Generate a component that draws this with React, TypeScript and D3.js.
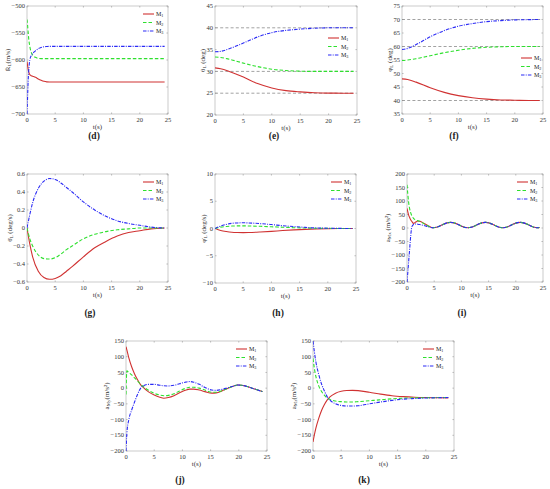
import React from 'react';
import * as d3 from 'd3';

const xTicks = [0, 5, 10, 15, 20, 25];
const legendSubs = ['1', '2', '3'];

// (d)
const tD = [0, 0.1, 0.2, 0.3, 0.5, 0.75, 1, 1.5, 2, 2.5, 3, 3.5, 4, 6, 10, 15, 20, 24.4];
const dM1 = [-603, -610, -617, -622, -627, -629, -630, -632, -635, -637.5, -639.5, -640.5, -640.7, -640.7, -640.7, -640.7, -640.7, -640.7];
const dM2 = [-525, -535, -548, -560, -575, -586, -591, -595, -597, -597.5, -597.5, -597.5, -597.5, -597.5, -597.5, -597.5, -597.5, -597.5];
const dM3 = [-700, -670, -640, -620, -600, -592, -588, -583, -579, -577, -575.5, -575, -574.7, -574.7, -574.7, -574.7, -574.7, -574.7];
const dTicks = [-700, -650, -600, -550, -500];

// (e)
const tE = [0, 1, 2.5, 5, 7.5, 10, 12.5, 15, 17.5, 20, 22.5, 24.4];
const eM1 = [30.8, 30.6, 30.0, 28.7, 27.2, 26.2, 25.6, 25.3, 25.1, 25.02, 25.0, 25.0];
const eM2 = [33.3, 33.2, 32.8, 31.9, 31.1, 30.5, 30.2, 30.05, 30.0, 30.0, 30.0, 30.0];
const eM3 = [34.5, 34.6, 35.2, 36.5, 37.9, 38.9, 39.4, 39.7, 39.9, 40.0, 40.0, 40.0];
const eRefs = [25, 30, 40];
const eTicks = [20, 25, 30, 35, 40, 45];

// (f)
const tF = [0, 1, 2.5, 5, 7.5, 10, 12.5, 15, 17.5, 20, 22.5, 24.4];
const fM1 = [48.0, 47.8, 46.8, 44.7, 43.0, 41.8, 41.0, 40.5, 40.2, 40.1, 40.0, 40.0];
const fM2 = [54.8, 55.0, 55.5, 56.6, 57.7, 58.6, 59.3, 59.7, 59.9, 60.0, 60.0, 60.0];
const fM3 = [58.9, 59.3, 60.7, 63.6, 65.9, 67.5, 68.5, 69.2, 69.6, 69.85, 69.95, 70.0];
const fRefs = [40, 60, 70];
const fTicks = [35, 40, 45, 50, 55, 60, 65, 70, 75];

// (g)
const tG = [0, 0.5, 1, 2, 3, 4, 5, 6, 7, 8, 10, 12, 14, 16, 18, 20, 22, 24.4];
const gM1 = [0, -0.18, -0.32, -0.48, -0.55, -0.57, -0.56, -0.53, -0.48, -0.43, -0.32, -0.22, -0.15, -0.09, -0.05, -0.03, -0.01, 0];
const gM2 = [0, -0.12, -0.2, -0.3, -0.34, -0.345, -0.33, -0.29, -0.24, -0.2, -0.12, -0.07, -0.04, -0.02, -0.01, 0, 0, 0];
const gM3 = [0, 0.15, 0.28, 0.44, 0.52, 0.55, 0.54, 0.5, 0.45, 0.4, 0.29, 0.2, 0.13, 0.08, 0.05, 0.03, 0.01, 0];
const gTicks = [-0.6, -0.4, -0.2, 0, 0.2, 0.4, 0.6];

// (h)
const tH = [0, 1, 2, 3, 4, 5, 6, 8, 10, 12, 14, 16, 18, 20, 22, 24.4];
const hM1 = [0, -0.35, -0.55, -0.68, -0.73, -0.75, -0.73, -0.64, -0.52, -0.38, -0.26, -0.16, -0.09, -0.04, -0.01, 0];
const hM2 = [0, 0.25, 0.38, 0.45, 0.48, 0.48, 0.46, 0.4, 0.32, 0.23, 0.15, 0.09, 0.05, 0.02, 0.01, 0];
const hM3 = [0, 0.45, 0.75, 0.95, 1.02, 1.05, 1.02, 0.9, 0.72, 0.52, 0.35, 0.2, 0.1, 0.05, 0.02, 0];
const hTicks = [-10, -5, 0, 5, 10];

// (i)
const tI = [0, 0.15, 0.3, 0.5, 0.7, 0.9, 1.2, 1.6, 2, 2.5, 3, 3.5, 4, 4.4,
  4.8, 5.6, 6.4, 7.2, 8.0, 8.8, 9.6, 10.4, 11.2, 12.0, 12.8, 13.6, 14.4, 15.2, 16.0, 16.8, 17.6,
  18.4, 19.2, 20.0, 20.8, 21.6, 22.4, 23.2, 24.0, 24.4];
const iTail = [1, 4, 11, 18, 21, 18, 11, 4, 1, 4, 11, 18, 21, 18, 11, 4, 1, 4, 11, 18, 21, 18, 11, 4, 1, 2];
const iM1 = [73, 60, 48, 38, 30, 24, 17, 22, 26, 24, 19, 13, 7, 3, ...iTail];
const iM2 = [160, 125, 95, 70, 55, 45, 36, 30, 27, 24, 17, 11, 6, 3, ...iTail];
const iM3 = [-200, -165, -125, -75, -25, 5, 13, 15, 14, 12, 10, 7, 4, 2, ...iTail];
const iTicks = [-200, -150, -100, -50, 0, 50, 100, 150, 200];

// (j)
const tJ = [0, 0.15, 0.5, 1, 1.5, 2, 2.5, 3, 4, 5, 6, 6.7, 7.5, 8.5, 9.5, 10.5, 11.3, 12, 13, 14, 15.2, 16, 17, 18, 19, 19.8, 20.5, 21.5, 22.5, 23.5, 24.2];
const jM1 = [132, 122, 96, 68, 46, 28, 13, 3, -12, -22, -29, -32, -30, -24, -15, -7, -3, -3, -6, -11, -16, -15, -9, -1, 6, 10, 9, 5, -1, -7, -11];
const jM2 = [-20, 55, 50, 42, 33, 24, 14, 6, -7, -16, -22, -24, -23, -18, -9, -1, 3, 3, 0, -6, -13, -13, -8, -1, 6, 10, 9, 5, -1, -7, -11];
const jM3 = [-200, -145, -100, -70, -45, -22, -3, 7, 12, 12, 9, 7.5, 7, 9, 14, 19, 21, 19, 12, 2, -6, -7, -4, 1, 6, 10, 9, 5, -1, -7, -11];
const jTicks = [-200, -150, -100, -50, 0, 50, 100, 150];

// (k)
const tK = [0, 0.25, 0.5, 1, 1.5, 2, 2.5, 3, 4, 5, 6, 7, 8, 10, 12, 14, 16, 18, 20, 22, 24];
const kM1 = [-171, -148, -128, -97, -72, -53, -38, -28, -16, -10, -7.5, -7, -8, -13, -19, -24, -27, -29, -30, -30.5, -31];
const kM2 = [95, 62, 38, 8, -10, -22, -31, -36, -41, -43, -44, -44, -43, -40, -37, -34, -32, -31, -30.5, -30, -30];
const kM3 = [150, 115, 85, 45, 14, -8, -27, -38, -50, -55, -57, -57, -56, -50, -44, -39, -35, -33, -31.5, -30.5, -30];
const kTicks = [-200, -150, -100, -50, 0, 50, 100, 150];

const STYLES = [
  { color: '#d03232', dash: '' },
  { color: '#2ee02e', dash: '3.5,2' },
  { color: '#2b2bf5', dash: '3.5,1.2,1,1.2' },
];

const FONT = '"Liberation Serif", "Times New Roman", serif';

const fmt = (v: number) => {
  const s = String(Math.round(v * 100) / 100);
  return v < 0 ? '\u2212' + s.slice(1) : s;
};

type PanelProps = {
  id: string;
  x0: number; x1: number; y0: number; y1: number;
  yDomain: [number, number];
  yTicks: number[];
  t: number[];
  series: number[][];
  refs?: number[];
  legend: [number, number];
  ylabel: React.ReactNode;
  ylabelX: number;
  tag: string;
  tagX: number;
  tagY: number;
};

function Panel(p: PanelProps) {
  const x = d3.scaleLinear().domain([0, 25]).range([p.x0, p.x1]);
  const y = d3.scaleLinear().domain(p.yDomain).range([p.y1, p.y0]);
  const line = d3.line<number>()
    .x((_, i) => x(p.t[i]))
    .y((v) => y(v))
    .curve(d3.curveMonotoneX);
  const tl = 1.6;
  const clipId = 'clip-' + p.id;
  const midY = (p.y0 + p.y1) / 2;
  return (
    <g>
      <defs>
        <clipPath id={clipId}>
          <rect x={p.x0} y={p.y0 - 1} width={p.x1 - p.x0} height={p.y1 - p.y0 + 2} />
        </clipPath>
      </defs>
      <rect x={p.x0} y={p.y0} width={p.x1 - p.x0} height={p.y1 - p.y0} fill="#fff" stroke="#a8a8a8" strokeWidth={0.6} />
      {xTicks.map((v) => (
        <g key={'xt' + v}>
          <line x1={x(v)} x2={x(v)} y1={p.y1} y2={p.y1 - tl} stroke="#888" strokeWidth={0.5} />
          <line x1={x(v)} x2={x(v)} y1={p.y0} y2={p.y0 + tl} stroke="#888" strokeWidth={0.5} />
          <text x={x(v)} y={p.y1 + 7.5} fontSize={6.5} textAnchor="middle" fill="#333" fontFamily={FONT}>{fmt(v)}</text>
        </g>
      ))}
      {p.yTicks.map((v) => (
        <g key={'yt' + v}>
          <line x1={p.x0} x2={p.x0 + tl} y1={y(v)} y2={y(v)} stroke="#888" strokeWidth={0.5} />
          <line x1={p.x1} x2={p.x1 - tl} y1={y(v)} y2={y(v)} stroke="#888" strokeWidth={0.5} />
          <text x={p.x0 - 2} y={y(v) + 2.2} fontSize={6.5} textAnchor="end" fill="#333" fontFamily={FONT}>{fmt(v)}</text>
        </g>
      ))}
      <text x={(p.x0 + p.x1) / 2} y={p.y1 + 14.5} fontSize={7} textAnchor="middle" fill="#333" fontFamily={FONT}>t(s)</text>
      <text transform={`translate(${p.ylabelX},${midY}) rotate(-90)`} fontSize={7} textAnchor="middle" dominantBaseline="middle" fill="#333" fontFamily={FONT}>{p.ylabel}</text>
      <g clipPath={`url(#${clipId})`}>
        {(p.refs || []).map((r) => (
          <line key={'r' + r} x1={x(0)} x2={x(24.5)} y1={y(r)} y2={y(r)} stroke="#8a8a8a" strokeWidth={0.8} strokeDasharray="3,2.2" />
        ))}
        {p.series.map((s, i) => (
          <path key={'s' + i} d={line(s) || ''} fill="none" stroke={STYLES[i].color} strokeWidth={1.1} strokeDasharray={STYLES[i].dash || undefined} />
        ))}
      </g>
      {legendSubs.map((sub, i) => {
        const ly = p.legend[1] + i * 8.5;
        const lx = p.legend[0];
        return (
          <g key={'lg' + i}>
            <line x1={lx} x2={lx + 11} y1={ly} y2={ly} stroke={STYLES[i].color} strokeWidth={1.1} strokeDasharray={STYLES[i].dash || undefined} />
            <text x={lx + 13} y={ly + 2} fontSize={6} fill="#222" fontFamily={FONT}>M<tspan fontSize={4.2} dy={1.4}>{sub}</tspan></text>
          </g>
        );
      })}
      <text x={p.tagX} y={p.tagY + 3.2} fontSize={9.5} fontWeight="bold" textAnchor="middle" fill="#222" fontFamily={FONT}>{p.tag}</text>
    </g>
  );
}

const sub = (s: string) => <tspan fontSize={5} dy={1.5}>{s}</tspan>;

export default function App() {
  return (
    <svg width={550} height={489} style={{ position: 'absolute', left: 0, top: 0, background: '#fff' }}>
      <rect width={550} height={489} fill="#fff" />
      <Panel id="d" x0={27} x1={168} y0={6} y1={114} yDomain={[-700, -500]} yTicks={dTicks}
        t={tD} series={[dM1, dM2, dM3]} legend={[143, 14]}
        ylabel={<>{'R\u0307'}{sub('L')}<tspan dy={-1.5}>(m/s)</tspan></>} ylabelX={8}
        tag="(d)" tagX={94} tagY={136} />
      <Panel id="e" x0={215} x1={357} y0={6} y1={115} yDomain={[20, 45]} yTicks={eTicks}
        t={tE} series={[eM1, eM2, eM3]} refs={eRefs} legend={[328, 38]}
        ylabel={<>{'\u03B8'}{sub('L')}<tspan dy={-1.5}> (deg)</tspan></>} ylabelX={203}
        tag="(e)" tagX={274} tagY={136} />
      <Panel id="f" x0={402} x1={543} y0={6} y1={114} yDomain={[35, 75]} yTicks={fTicks}
        t={tF} series={[fM1, fM2, fM3]} refs={fRefs} legend={[521, 58]}
        ylabel={<>{'\u03C6'}{sub('L')}<tspan dy={-1.5}> (deg)</tspan></>} ylabelX={390}
        tag="(f)" tagX={454} tagY={136} />
      <Panel id="g" x0={27} x1={168} y0={174} y1={282} yDomain={[-0.6, 0.6]} yTicks={gTicks}
        t={tG} series={[gM1, gM2, gM3]} legend={[143, 182]}
        ylabel={<>{'\u03B8\u0307'}{sub('L')}<tspan dy={-1.5}> (deg/s)</tspan></>} ylabelX={10}
        tag="(g)" tagX={90} tagY={313} />
      <Panel id="h" x0={215} x1={356} y0={174} y1={283} yDomain={[-10, 10]} yTicks={hTicks}
        t={tH} series={[hM1, hM2, hM3]} legend={[331, 182]}
        ylabel={<>{'\u03C6\u0307'}{sub('L')}<tspan dy={-1.5}> (deg/s)</tspan></>} ylabelX={204}
        tag="(h)" tagX={278} tagY={313} />
      <Panel id="i" x0={407} x1={543} y0={174} y1={282} yDomain={[-200, 200]} yTicks={iTicks}
        t={tI} series={[iM1, iM2, iM3]} legend={[517, 182]}
        ylabel={<>a{sub('Mx')}<tspan dy={-1.5}> (m/s²)</tspan></>} ylabelX={388}
        tag="(i)" tagX={462} tagY={313} />
      <Panel id="j" x0={126} x1={267} y0={341} y1={451} yDomain={[-200, 150]} yTicks={jTicks}
        t={tJ} series={[jM1, jM2, jM3]} legend={[236, 349]}
        ylabel={<>a{sub('My')}<tspan dy={-1.5}>(m/s²)</tspan></>} ylabelX={107}
        tag="(j)" tagX={180} tagY={480} />
      <Panel id="k" x0={313} x1={454} y0={341} y1={451} yDomain={[-200, 150]} yTicks={kTicks}
        t={tK} series={[kM1, kM2, kM3]} legend={[423, 349]}
        ylabel={<>a{sub('Mz')}<tspan dy={-1.5}>(m/s²)</tspan></>} ylabelX={294}
        tag="(k)" tagX={364} tagY={480} />
    </svg>
  );
}
